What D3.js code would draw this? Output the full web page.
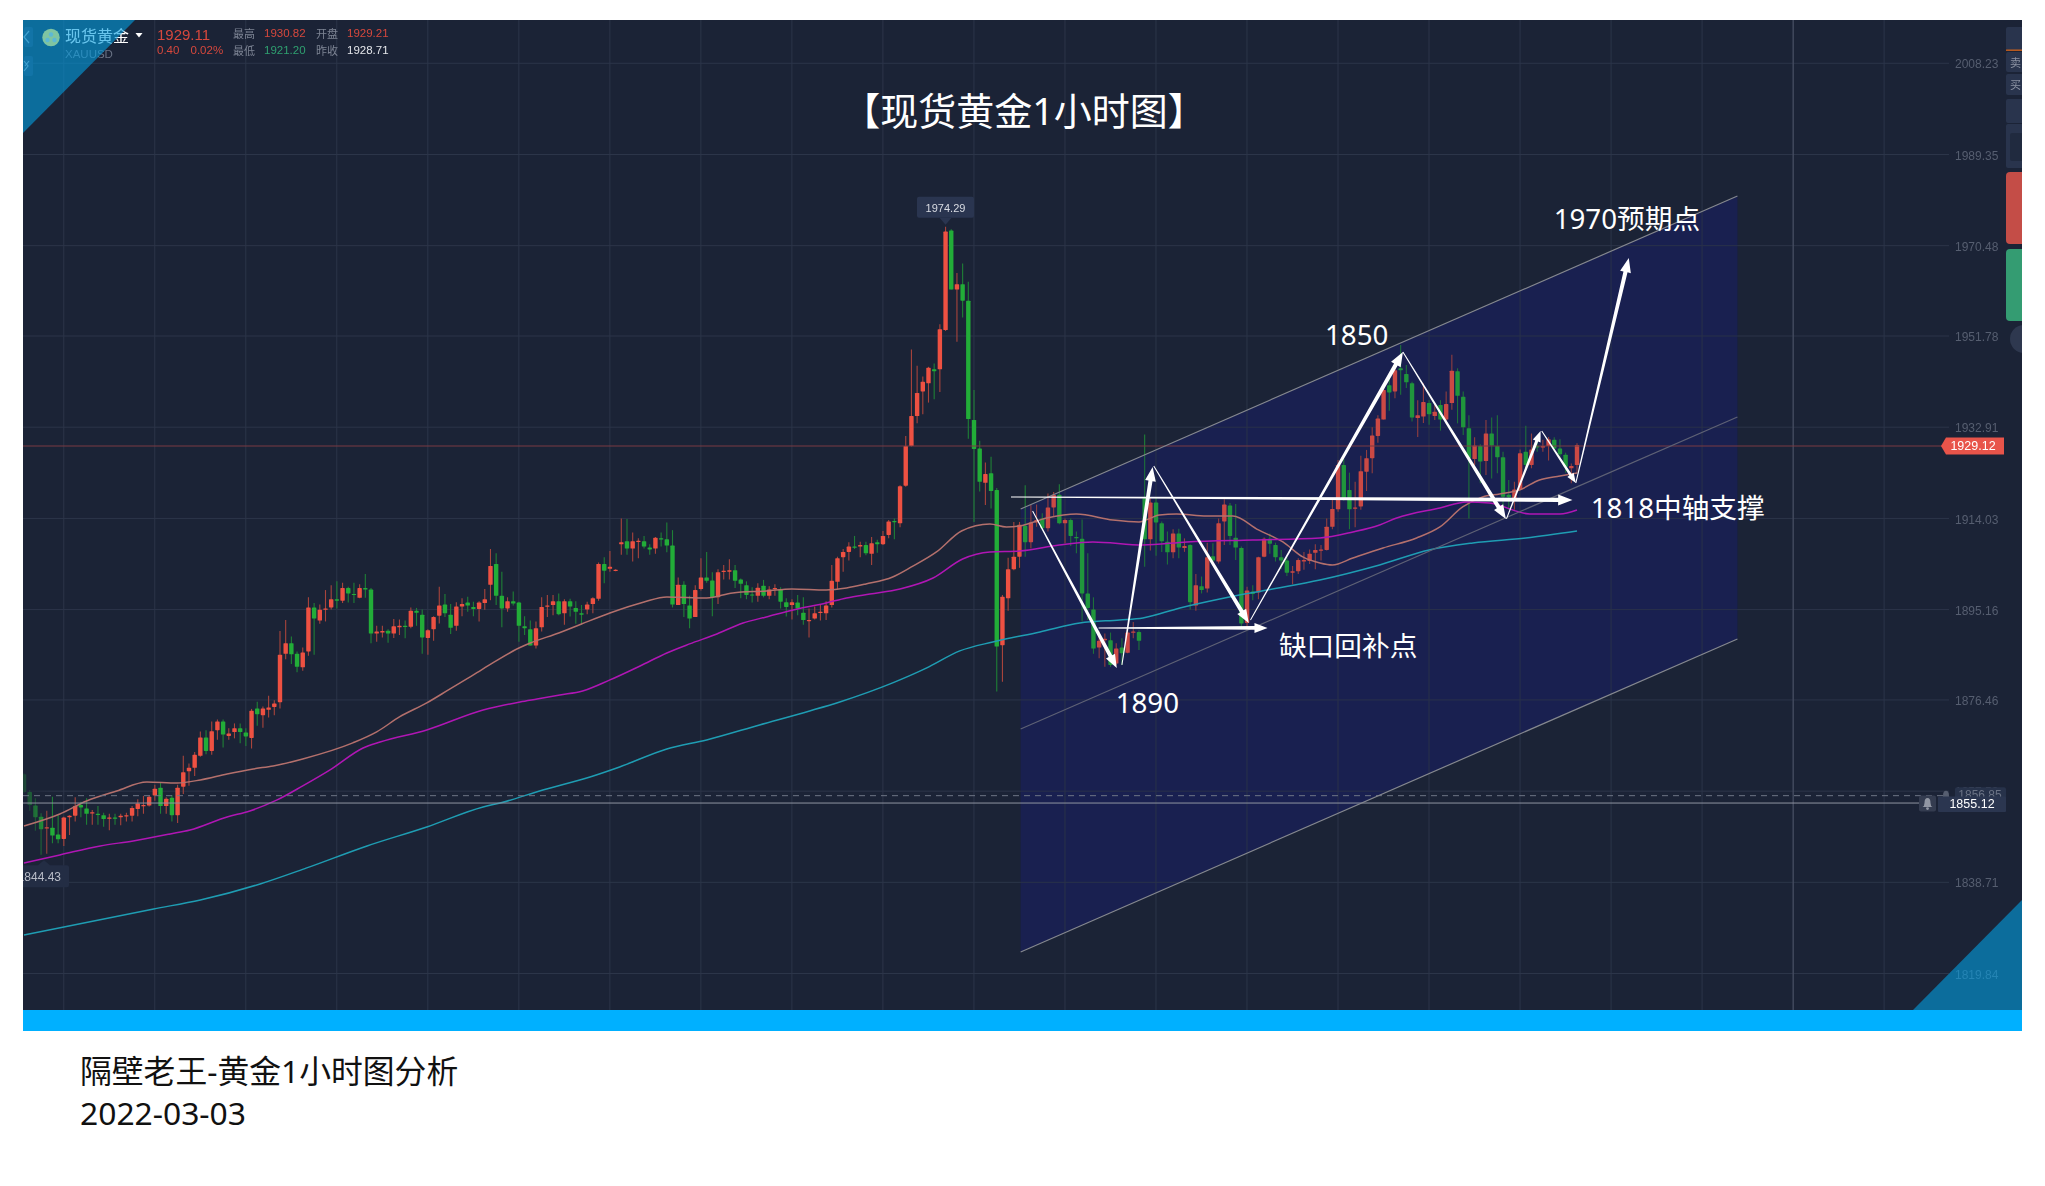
<!DOCTYPE html>
<html><head><meta charset="utf-8">
<script src="https://cdnjs.cloudflare.com/ajax/libs/d3/7.8.5/d3.min.js"></script>
<style>html,body{margin:0;padding:0;background:#fff}svg{display:block}</style>
</head><body><div id="chart"></div>
<script>
// Candles: [open, high, low, close]
const candlesA=[[1861.0,1861.2,1857.0,1857.3],[1857.3,1857.7,1853.4,1854.6],[1854.5,1856.0,1849.3,1852.1],[1852.2,1852.9,1844.3,1849.6],[1849.8,1853.4,1844.5,1850.0],[1849.9,1856.3,1846.7,1848.3],[1848.5,1852.5,1846.7,1847.5],[1847.6,1852.2,1846.1,1852.0],[1852.1,1852.5,1848.4,1852.4],[1852.4,1856.2,1851.2,1854.4],
[1854.6,1855.3,1852.1,1854.1],[1853.9,1856.0,1850.5,1852.8],[1852.9,1853.6,1850.5,1853.1],[1852.8,1854.4,1850.5,1852.6],[1852.5,1853.0,1850.1,1851.7],[1851.8,1852.8,1849.4,1852.0],[1852.0,1852.8,1850.5,1851.8],[1852.1,1852.8,1850.4,1852.4],[1852.3,1853.0,1851.2,1852.5],[1852.4,1854.4,1851.2,1854.0],
[1853.8,1855.8,1852.3,1854.9],[1854.5,1856.5,1852.8,1854.6],[1854.5,1856.5,1854.3,1856.3],[1856.6,1858.8,1855.5,1858.0],[1858.2,1859.2,1852.8,1854.4],[1854.4,1856.2,1852.8,1855.9],[1856.1,1856.7,1851.2,1852.5],[1852.5,1858.8,1850.9,1858.2],[1858.4,1864.8,1856.9,1861.4],[1861.6,1863.2,1858.6,1862.3],
[1862.3,1865.6,1860.6,1865.0],[1864.8,1869.8,1864.6,1868.6],[1868.6,1870.1,1865.1,1865.8],[1865.8,1871.9,1865.0,1869.9],[1870.1,1872.3,1868.1,1871.9],[1871.9,1872.3,1866.5,1869.2],[1868.9,1870.5,1868.1,1869.4],[1869.7,1871.5,1868.4,1870.5],[1870.5,1871.5,1867.4,1869.7],[1869.6,1870.5,1866.8,1868.8],
[1868.5,1874.5,1866.3,1874.1],[1874.6,1876.0,1871.0,1873.4],[1873.2,1875.0,1870.6,1874.6],[1874.3,1877.2,1872.7,1874.8],[1874.9,1876.3,1873.2,1875.6],[1875.9,1890.6,1874.6,1885.7],[1885.9,1892.9,1884.8,1888.1],[1888.1,1889.5,1883.8,1885.8],[1885.9,1886.4,1882.1,1883.2],[1883.1,1887.2,1882.4,1886.2]];
const candlesB=[[1886.4,1897.6,1885.5,1895.5],[1895.5,1896.4,1885.7,1893.2],[1892.8,1896.1,1892.1,1895.0],[1895.0,1899.1,1892.6,1895.3],[1895.5,1900.1,1895.1,1897.2],[1897.2,1900.9,1895.3,1896.9],[1896.9,1900.6,1896.4,1899.5],[1899.5,1899.8,1896.5,1898.4],[1898.3,1900.6,1896.4,1898.1],[1897.5,1900.3,1897.4,1899.5],
[1899.5,1902.4,1897.5,1899.2],[1899.2,1899.5,1888.1,1890.1],[1890.1,1891.7,1888.4,1890.5],[1890.3,1891.7,1889.3,1890.6],[1890.7,1891.0,1888.2,1890.1],[1890.1,1893.1,1889.2,1891.6],[1891.4,1893.0,1889.8,1891.7],[1891.7,1892.8,1889.1,1891.5],[1891.5,1895.5,1891.2,1894.8],[1894.8,1895.4,1891.7,1894.4],
[1894.0,1895.1,1885.9,1889.3],[1889.2,1891.0,1885.7,1890.8],[1891.0,1893.7,1888.6,1893.5],[1893.8,1899.8,1892.2,1895.9],[1896.1,1898.3,1893.5,1894.3],[1894.0,1896.2,1890.0,1891.3],[1891.7,1896.6,1890.7,1895.7],[1895.7,1897.4,1893.7,1896.2],[1896.5,1897.7,1894.6,1895.9],[1895.6,1896.7,1893.7,1895.2],
[1895.2,1896.8,1892.6,1896.5],[1896.4,1899.3,1895.0,1897.2],[1900.2,1907.6,1897.0,1904.1],[1904.5,1906.7,1896.0,1897.9],[1897.9,1902.9,1891.4,1895.3],[1895.3,1897.6,1894.6,1896.8],[1896.8,1898.8,1895.9,1896.3],[1896.5,1896.7,1888.4,1891.7],[1891.6,1893.7,1889.8,1891.2],[1891.0,1892.8,1887.6,1887.6],
[1887.6,1892.6,1887.0,1891.2],[1891.4,1897.6,1890.5,1895.6],[1895.7,1898.1,1893.5,1895.9],[1896.0,1898.1,1893.9,1896.8],[1896.8,1898.4,1893.9,1894.1],[1894.3,1897.2,1891.9,1896.8],[1896.8,1897.3,1893.6,1895.7],[1895.4,1896.8,1892.1,1894.6],[1894.3,1896.0,1891.9,1894.0],[1895.1,1896.7,1894.1,1896.1]];
const candlesC=[[1896.2,1897.6,1894.3,1897.4],[1897.3,1904.8,1896.9,1904.5],[1904.5,1905.9,1900.5,1903.1],[1903.5,1907.2,1902.9,1903.9],[1903.1,1903.4,1903.0,1903.3],[1908.6,1913.9,1906.4,1909.0],[1909.2,1913.8,1906.4,1907.7],[1907.7,1911.0,1905.0,1909.2],[1909.2,1909.8,1905.7,1909.3],[1909.2,1910.3,1907.7,1908.1],
[1907.9,1908.6,1906.4,1907.5],[1907.7,1910.1,1906.6,1909.9],[1909.8,1911.0,1908.1,1909.6],[1909.6,1913.1,1906.9,1908.3],[1908.3,1911.5,1895.5,1896.1],[1896.0,1901.7,1896.0,1900.2],[1900.2,1900.9,1893.5,1896.2],[1895.9,1897.9,1891.2,1893.2],[1893.5,1900.1,1893.5,1899.1],[1899.3,1905.7,1899.0,1901.7],
[1901.7,1907.0,1900.6,1901.0],[1901.1,1902.8,1893.7,1897.6],[1897.6,1903.4,1896.2,1902.8],[1902.9,1904.3,1901.3,1903.1],[1902.9,1905.5,1901.3,1903.2],[1903.2,1904.3,1899.5,1901.0],[1901.3,1901.5,1897.4,1900.4],[1900.1,1900.9,1897.2,1898.1],[1898.2,1899.7,1896.5,1898.0],[1897.9,1900.5,1896.7,1899.6],
[1900.0,1901.2,1897.6,1897.9],[1897.9,1899.9,1897.2,1899.2],[1899.3,1900.3,1897.9,1899.5],[1899.2,1899.7,1895.3,1896.7],[1896.6,1897.4,1893.6,1895.6],[1896.0,1897.2,1893.0,1896.6],[1896.5,1898.1,1893.9,1895.3],[1894.4,1897.6,1891.9,1892.9],[1892.7,1895.3,1889.3,1892.9],[1893.2,1895.7,1893.0,1894.3],
[1894.4,1896.0,1892.8,1894.6],[1894.3,1896.8,1892.9,1895.9],[1896.0,1904.3,1895.5,1901.0],[1900.8,1906.0,1899.2,1905.7],[1905.9,1907.6,1902.9,1907.0],[1907.0,1909.0,1905.2,1908.1],[1908.1,1910.3,1907.6,1907.9],[1908.1,1909.1,1905.9,1908.4],[1908.4,1909.1,1906.3,1906.7],[1906.6,1910.1,1904.3,1908.8]];
const candlesD=[[1909.0,1909.5,1906.8,1908.6],[1908.6,1911.3,1908.4,1910.3],[1910.5,1913.6,1909.8,1913.3],[1913.4,1913.9,1909.6,1913.2],[1912.9,1920.8,1912.1,1920.6],[1920.7,1931.0,1920.5,1928.9],[1928.9,1948.9,1928.8,1935.1],[1935.1,1945.5,1933.6,1939.9],[1940.2,1943.3,1935.5,1942.2],[1941.9,1945.3,1937.9,1945.1],
[1944.8,1946.0,1938.6,1944.4],[1944.8,1954.1,1940.1,1953.1],[1952.9,1974.29,1952.7,1973.3],[1973.5,1973.8,1961.3,1961.3],[1961.3,1964.7,1950.5,1962.4],[1962.4,1966.7,1955.5,1959.0],[1959.0,1962.9,1930.4,1934.5],[1934.3,1940.5,1913.2,1928.3],[1928.4,1930.0,1919.5,1921.5],[1921.3,1925.5,1916.7,1923.1],
[1923.3,1926.7,1916.0,1919.6],[1919.8,1920.2,1878.1,1887.4],[1887.7,1898.1,1880.1,1897.7],[1897.4,1905.8,1894.8,1903.4],[1903.4,1913.2,1903.2,1906.0],[1906.0,1913.2,1903.7,1912.6],[1912.4,1920.8,1906.0,1909.0],[1909.0,1916.7,1907.7,1913.1],[1913.1,1916.8,1912.2,1913.6],[1913.9,1915.0,1911.5,1911.9],
[1911.9,1919.1,1911.2,1916.2],[1916.2,1919.4,1914.3,1918.8],[1918.8,1921.0,1912.7,1912.9],[1912.9,1913.9,1908.8,1913.6],[1913.6,1913.9,1908.2,1910.3],[1910.1,1911.2,1906.7,1909.8],[1909.7,1913.7,1892.6,1898.4],[1898.4,1906.7,1892.9,1895.4],[1895.1,1897.6,1885.9,1887.0],[1887.2,1890.5,1885.0,1888.6],
[1888.7,1890.1,1883.2,1889.0],[1888.7,1890.3,1883.2,1883.6],[1883.9,1888.1,1883.6,1887.0],[1887.2,1889.1,1883.6,1886.0],[1886.1,1890.8,1886.0,1890.3],[1890.3,1892.5,1889.1,1890.5],[1890.4,1890.8,1886.7,1888.6],[1918.1,1931.3,1903.9,1909.6],[1909.6,1918.1,1907.3,1917.2],[1917.2,1918.1,1906.2,1913.1]];
const candlesE=[[1912.9,1913.3,1907.0,1909.2],[1909.1,1911.2,1904.4,1906.9],[1906.9,1911.7,1905.7,1910.8],[1910.8,1911.8,1905.7,1907.9],[1907.8,1909.8,1907.0,1908.2],[1908.4,1908.6,1895.1,1896.6],[1895.9,1902.4,1894.8,1900.1],[1899.9,1901.9,1898.4,1899.1],[1899.4,1908.9,1898.6,1905.9],[1906.1,1908.8,1904.9,1905.2],
[1905.0,1913.9,1904.6,1912.9],[1913.3,1917.9,1908.4,1916.8],[1916.6,1917.1,1908.4,1910.3],[1909.9,1916.9,1905.3,1907.9],[1907.8,1908.1,1891.0,1892.2],[1892.3,1899.8,1891.0,1899.0],[1898.8,1900.1,1897.0,1898.3],[1898.6,1906.0,1897.2,1905.9],[1906.0,1910.0,1905.9,1909.7],[1909.7,1910.8,1906.6,1908.7],
[1908.4,1908.9,1905.0,1905.9],[1905.9,1907.4,1903.4,1905.2],[1905.2,1905.9,1902.0,1902.7],[1902.7,1904.1,1900.3,1903.0],[1903.0,1905.7,1902.4,1905.3],[1905.0,1907.0,1903.3,1905.3],[1905.1,1907.5,1904.5,1906.6],[1906.8,1908.6,1903.4,1907.4],[1907.4,1908.4,1905.2,1907.5],[1907.4,1913.9,1907.3,1912.2],
[1912.2,1918.1,1911.7,1915.9],[1915.8,1926.0,1915.3,1925.0],[1925.0,1926.2,1917.6,1917.9],[1919.8,1923.4,1911.7,1915.8],[1916.0,1921.5,1912.1,1916.2],[1916.4,1926.9,1915.7,1923.7],[1923.6,1928.1,1919.6,1926.4],[1926.4,1932.8,1923.3,1931.1],[1931.0,1935.3,1929.6,1934.6],[1934.4,1941.1,1934.4,1940.5],
[1941.5,1943.4,1936.2,1940.0],[1940.2,1945.7,1938.8,1944.6],[1945.0,1949.8,1939.5,1944.6],[1943.8,1945.7,1940.9,1942.1],[1941.9,1942.2,1934.0,1934.8],[1934.7,1938.4,1930.8,1935.3],[1935.0,1941.9,1933.7,1938.0],[1937.8,1938.4,1933.3,1935.5],[1935.1,1937.4,1934.3,1936.0],[1937.4,1938.4,1932.1,1934.4]];
const candlesF=[[1934.4,1940.2,1933.5,1937.6],[1937.8,1947.8,1936.4,1944.5],[1944.4,1945.0,1933.6,1939.3],[1939.1,1940.2,1931.2,1932.8],[1932.6,1935.3,1913.9,1926.4],[1926.2,1930.7,1925.0,1929.0],[1928.9,1929.3,1921.2,1925.7],[1925.8,1934.3,1922.9,1931.5],[1931.5,1934.8,1922.2,1929.0],[1928.9,1935.3,1923.3,1926.6],
[1926.6,1927.7,1916.0,1918.4],[1918.8,1921.9,1915.7,1918.3],[1918.1,1921.5,1915.7,1919.9],[1919.9,1928.2,1919.8,1927.4],[1927.7,1933.1,1924.0,1925.0],[1925.0,1931.5,1924.3,1928.2],[1928.9,1930.9,1927.7,1928.6],[1928.6,1930.2,1927.7,1928.9],[1928.9,1930.8,1925.9,1930.3],[1930.2,1930.7,1927.7,1928.4],
[1928.4,1930.3,1926.4,1927.2],[1927.1,1927.5,1923.4,1924.6],[1924.3,1925.3,1921.2,1924.8],[1925.0,1929.5,1923.3,1929.11]];
const candles=[].concat(candlesA,candlesB,candlesC,candlesD,candlesE,candlesF);

// Moving averages: [candle index, price]
const maSalmon=[[0,1850.28],[6.3,1852.76],[11,1855.45],[16.3,1857.52],[21.6,1859.38],[26.9,1859.17],[31,1859.8],[35.7,1861.04],[40.3,1862.08],[43.8,1862.7],[49,1864.14],[57.8,1867.46],[62,1869.74],[66,1872.84],[70.8,1875.74],[74.9,1878.64],[79,1881.53],[82.4,1884.01],[87,1887.11],[89,1888.15],[94,1890.22],[98,1892.08],[103,1894.36],[109,1896.64],[113,1897.67],[120,1897.46],[124.6,1898.5],[130.5,1898.91],[135,1899.33],[141,1899.12],[144.6,1899.53],[148,1900.36],[152.7,1901.81],[156,1903.88],[160.4,1906.98],[164.8,1911.33],[169.8,1912.78],[172.7,1912.16],[175,1912.37],[179.8,1914.02],[185,1914.85],[191.4,1913.6],[196,1913.19],[199.6,1914.64],[202.6,1914.85],[207.9,1914.43],[212.5,1914.43],[217,1911.54],[221.3,1909.06],[224.8,1905.95],[227.8,1904.71],[230,1904.3],[233.6,1905.74],[238.9,1907.81],[244.8,1909.88],[248.9,1912.16],[252.9,1916.3],[256.4,1918.37],[259.4,1918.99],[262.9,1919.82],[266.4,1921.89],[270,1922.71],[273,1923.33]];
const maMagenta=[[0,1842.62],[6.3,1844.28],[13.4,1846.14],[19.2,1847.18],[25.7,1848.62],[29.2,1849.45],[35.7,1852.14],[39.7,1853.38],[44.5,1855.66],[49,1858.56],[53.8,1861.87],[59.6,1866.42],[62.6,1867.66],[70.8,1870.15],[80.7,1874.28],[87.2,1875.94],[90.2,1876.56],[94.2,1877.39],[98.2,1878.22],[103,1880.5],[108.3,1883.39],[113,1886.08],[117,1887.95],[121.8,1890.01],[126.4,1892.29],[130.5,1893.53],[135.2,1894.98],[141,1896.43],[144.6,1897.46],[148.7,1898.29],[154,1899.33],[159.8,1901.6],[165,1905.53],[169.8,1906.98],[175,1907.19],[182,1908.43],[187.9,1909.06],[196.7,1908.43],[204.4,1909.06],[216,1909.47],[227.8,1909.88],[233.6,1911.12],[238.3,1912.57],[241.3,1914.02],[248.9,1916.09],[253.6,1917.33],[257.6,1917.12],[264.7,1914.85],[270,1914.85],[273,1915.67]];
const maTeal=[[0,1827.72],[22.8,1833.1],[31,1834.96],[41.5,1838.27],[49.7,1841.59],[60.3,1846.14],[70.8,1850.07],[80.7,1854.21],[83.7,1855.03],[91.2,1857.73],[99.5,1860.42],[104.7,1862.49],[113,1866.22],[120,1868.08],[129.3,1871.18],[138.1,1874.08],[143.4,1875.94],[152.7,1879.88],[158.7,1882.98],[164.5,1886.5],[170.3,1888.36],[178.6,1890.43],[185.6,1892.29],[192.6,1892.91],[196.7,1893.32],[203.2,1895.4],[210.2,1897.26],[218.5,1899.12],[227.8,1901.19],[238.3,1904.3],[247,1907.4],[254.7,1908.85],[264,1909.88],[273,1911.33]];

// Axis
const priceTicks=[2008.23,1989.35,1970.48,1951.78,1932.91,1914.03,1895.16,1876.46,1857.58,1838.71,1819.84];
const gridCandles=d3.range(6.9,340,16);
const crosshairCandle=311;

// Quote header
const quoteName="现货黄金", quoteCode="XAUUSD", quoteLast="1929.11", quoteChange="0.40", quotePct="0.02%";
const quoteHigh="1930.82", quoteOpen="1929.21", quoteLow="1921.20", quotePrev="1928.71";
const lastPrice=1929.12, alertPrice=1855.12, alertPrice2=1856.85, peakPrice=1974.29, lowTagPrice=1844.43;

// Drawn channel: [[candle, price] start, end]
const channelUpper=[[175.2,1915.88],[301.2,1980.66]];
const channelMiddle=[[175.2,1870.35],[301.2,1934.92]];
const channelLower=[[175.2,1824.2],[301.2,1888.98]];

// Drawn arrows: [[candle, price] start, end]
const arrowPaths=[
 [[177.3,1915.47],[192.1,1882.98]],
 [[193,1883.6],[198.4,1924.57]],
 [[198.6,1924.78],[215.3,1892.29]],
 [[215.6,1892.91],[242.4,1948.37]],
 [[242.4,1948.37],[260.5,1913.82]],
 [[260.6,1913.82],[266.6,1932.03]],
 [[266.8,1932.03],[272.8,1921.26]],
 [[272.8,1921.26],[282.1,1967.83]],
 [[173.5,1918.37],[272.2,1917.74]],
 [[188.9,1891.26],[218.6,1891.26]]];

// Drawn notes: text, candle, price at text middle
const notes=[["1970预期点",268.9,1976.1],["1850",228.7,1952.1],["1890",191.9,1875.9],["缺口回补点",220.6,1887.7],["1818中轴支撑",275.4,1916.3]];

const titleText="【现货黄金1小时图】";
const footerLines=["隔壁老王-黄金1小时图分析","2022-03-03"];

// ---------- drawing ----------
const W=2045,H=1186,PL=23,PR=2022,PT=20,PB=1010;
const CJK='"Noto Sans","Noto Sans CJK SC",sans-serif', ZH='"Noto Sans CJK SC","Noto Sans",sans-serif', LAT='"Liberation Sans",Arial,sans-serif';
const x=d3.scaleLinear().domain([0,273]).range([24,1577]);
const y=d3.scaleLinear().domain([1989.35,1819.84]).range([154,973]);
const P=p=>[x(p[0]),y(p[1])];

const svg=d3.select("#chart").append("svg").attr("width",W).attr("height",H).attr("viewBox",`0 0 ${W} ${H}`);
svg.append("rect").attr("width",W).attr("height",H).attr("fill","#fff");
const defs=svg.append("defs");
defs.append("clipPath").attr("id","panel").append("rect").attr("x",PL).attr("y",PT).attr("width",PR-PL).attr("height",PB-PT);
const fade=defs.append("linearGradient").attr("id","fade");
fade.append("stop").attr("offset",0).attr("stop-color","#1b2336").attr("stop-opacity",.8);
fade.append("stop").attr("offset",1).attr("stop-color","#1b2336").attr("stop-opacity",0);
defs.append("filter").attr("id","soft").attr("color-interpolation-filters","sRGB").append("feGaussianBlur").attr("stdDeviation",.35);

const root=svg.append("g").attr("clip-path","url(#panel)");
const g=root.append("g").attr("filter","url(#soft)");
g.append("rect").attr("x",PL).attr("y",PT).attr("width",PR-PL).attr("height",PB-PT).attr("fill","#1b2336");

// channel fill
const chan=[P(channelUpper[0]),P(channelUpper[1]),P(channelLower[1]),P(channelLower[0])];
g.append("polygon").attr("points",chan.join(" ")).attr("fill","#1a2150");

// grid and axes
const gx=g.append("g").attr("transform",`translate(0,${PB})`)
 .call(d3.axisBottom(x).tickValues(gridCandles).tickSize(-(PB-PT)).tickFormat(""));
gx.select(".domain").remove();
gx.selectAll("line").attr("stroke","#2c3549");
const gy=g.append("g").attr("transform",`translate(${PL},0)`)
 .call(d3.axisRight(y).tickValues(priceTicks).tickSize(1926).tickPadding(6).tickFormat(d3.format(".2f")));
gy.select(".domain").remove();
gy.selectAll("line").attr("stroke","#2c3549");
gy.selectAll("text").attr("fill","#565e70").attr("font-family",LAT).attr("font-size",12).attr("x",1932).attr("y",1.3);
g.append("line").attr("x1",x(crosshairCandle)).attr("x2",x(crosshairCandle)).attr("y1",PT).attr("y2",PB).attr("stroke","#4c5468");

// candles
const up=d=>d[3]>=d[0];
const cg=g.append("g").selectAll("g").data(candles).join("g");
cg.append("line").attr("x1",(d,i)=>x(i)).attr("x2",(d,i)=>x(i)).attr("y1",d=>y(d[1])).attr("y2",d=>y(d[2]))
 .attr("stroke",d=>up(d)?"#a8443c":"#1f8036").attr("stroke-width",1.1);
cg.append("rect").attr("x",(d,i)=>x(i)-2.2).attr("width",4.4).attr("rx",.6)
 .attr("y",d=>y(Math.max(d[0],d[3]))).attr("height",d=>Math.max(1.2,Math.abs(y(d[0])-y(d[3]))))
 .attr("fill",d=>up(d)?"#ee5142":"#22ad38");
// overlay tint
g.append("polygon").attr("points",chan.join(" ")).attr("fill","#1a2150").attr("opacity",.16);
g.append("rect").attr("x",PL).attr("y",760).attr("width",28).attr("height",130).attr("fill","url(#fade)");

// moving averages
const line=d3.line().x(d=>x(d[0])).y(d=>y(d[1])).curve(d3.curveMonotoneX);
[[maSalmon,"#b4706c"],[maMagenta,"#b016b4"],[maTeal,"#1f9db3"]].forEach(([a,c])=>
 g.append("path").attr("d",line(a)).attr("fill","none").attr("stroke",c).attr("stroke-width",1.5));

// price lines
const hline=(yy,c,dash,x2)=>g.append("line").attr("x1",PL).attr("x2",x2).attr("y1",yy).attr("y2",yy).attr("stroke",c).attr("stroke-dasharray",dash);
hline(y(lastPrice)+1,"#7a3a42",null,1942);
hline(y(alertPrice2)+1.5,"#6f7686","6 5",1945);
hline(y(alertPrice)+.5,"#8f94a2",null,1925);

// channel lines
[channelUpper,channelMiddle,channelLower].forEach((l,i)=>{
 const a=P(l[0]),b=P(l[1]);
 g.append("line").attr("x1",a[0]).attr("y1",a[1]).attr("x2",b[0]).attr("y2",b[1]).attr("stroke",i==1?"#5e6175":"#85888f").attr("stroke-width",1.2);
});

// price tags
const ly=y(lastPrice)+1;
g.append("path").attr("d",`M1941,${ly} L1946,${ly-8.5} H2004 V${ly+8.5} H1946 Z`).attr("fill","#e8544a");
const txt=(par,t,tx,ty,size,fill,anchor,fam)=>par.append("text").attr("x",tx).attr("y",ty).attr("font-size",size).attr("fill",fill)
 .attr("text-anchor",anchor||"start").attr("dominant-baseline","central").attr("font-family",fam||LAT).text(t);
txt(g,lastPrice.toFixed(2),1973,ly,12.5,"#fff","middle");
const bell=(cx,cy,fill)=>{
 g.append("path").attr("d",`M${cx-5},${cy+4} q2,-1 2,-4 q0,-5 3,-5 q3,0 3,5 q0,3 2,4 Z`).attr("fill",fill);
 g.append("circle").attr("cx",cx).attr("cy",cy+5.5).attr("r",1.4).attr("fill",fill);
};
g.append("rect").attr("x",1955).attr("y",y(alertPrice2)-7).attr("width",51).attr("height",18).attr("rx",2).attr("fill","#27324a");
txt(g,alertPrice2.toFixed(2),1980,y(alertPrice2)+1,12,"#6b7385","middle");
bell(1946,y(alertPrice2)+1.5,"#565e70");
g.append("rect").attr("x",1919).attr("y",y(alertPrice)-7).attr("width",17).attr("height",16).attr("rx",2).attr("fill","#343c50");
bell(1927.5,y(alertPrice)+.5,"#9196a3");
g.append("rect").attr("x",1938).attr("y",y(alertPrice)-6).attr("width",68).attr("height",15.5).attr("rx",1).attr("fill","#2b3650");
txt(g,alertPrice.toFixed(2),1972,y(alertPrice)+1.5,12.5,"#fff","middle");

// peak and low tags
const px=x(162), py=y(peakPrice);
g.append("rect").attr("x",917).attr("y",py-30).attr("width",57).attr("height",21).attr("rx",2).attr("fill","#2a3550");
g.append("path").attr("d",`M${px-6},${py-9} L${px},${py-2} L${px+6},${py-9} Z`).attr("fill","#2a3550");
txt(g,peakPrice.toFixed(2),945.5,py-19,11,"#d8dbe2","middle");
const lowY=y(lowTagPrice);
g.append("path").attr("d",`M${PL},${lowY+11} H38 L44,${lowY+6} L50,${lowY+11} H67 a2,2 0 0 1 2,2 V${lowY+31} a2,2 0 0 1 -2,2 H${PL} Z`).attr("fill","#232d44");
txt(g,lowTagPrice.toFixed(2),61,lowY+22.5,12,"#b9bdc8","end");

// right side widgets
const side=g.append("g");
[[27,23,"#29344d"],[52,20,"#29344d"],[74,21,"#29344d"],[99,24,"#29344d"],[124,44,"#29344d"]].forEach(b=>
 side.append("rect").attr("x",2006).attr("y",b[0]).attr("width",22).attr("height",b[1]).attr("rx",2).attr("fill",b[2]));
side.append("rect").attr("x",2006).attr("y",49.5).attr("width",16).attr("height",1.4).attr("fill","#c8601f");
side.append("rect").attr("x",2010).attr("y",133).attr("width",16).attr("height",28).attr("rx",2).attr("fill","#202a3f");
txt(side,"卖",2010,62,11,"#8c93a3","start",ZH);
txt(side,"买",2010,84,11,"#8c93a3","start",ZH);
side.append("rect").attr("x",2006).attr("y",172).attr("width",24).attr("height",72).attr("rx",4).attr("fill","#c44d47");
side.append("rect").attr("x",2006).attr("y",249).attr("width",24).attr("height",72).attr("rx",4).attr("fill","#349c72");
side.append("circle").attr("cx",2024).attr("cy",339).attr("r",14).attr("fill","#2e384f");

// quote header
const hd=g.append("g");
txt(hd,quoteName,65,34.5,16,"#fff","start",ZH);
hd.append("path").attr("d","M135.5,33 H142.5 L139,37.5 Z").attr("fill","#fff");
txt(hd,quoteCode,65,53.5,11.5,"#6a7385");
txt(hd,quoteLast,157,34,15,"#d7483d");
txt(hd,quoteChange,157,50,11.5,"#d7483d");
txt(hd,quotePct,190.5,50,11.5,"#d7483d");
txt(hd,"最高",233,33,11,"#7d8494","start",ZH);
txt(hd,quoteHigh,264,33,11.5,"#d7483d");
txt(hd,"开盘",316,33,11,"#7d8494","start",ZH);
txt(hd,quoteOpen,347,33,11.5,"#d7483d");
txt(hd,"最低",233,50,11,"#7d8494","start",ZH);
txt(hd,quoteLow,264,50,11.5,"#2fa070");
txt(hd,"昨收",316,50,11,"#7d8494","start",ZH);
txt(hd,quotePrev,347,50,11.5,"#e4e6ea");
[[27,20],[56,20]].forEach(b=>{
 hd.append("rect").attr("x",24).attr("y",b[0]).attr("width",9).attr("height",b[1]).attr("rx",2).attr("fill","#2a3650");
});
hd.append("path").attr("d","M29,31 L24,37 L29,43").attr("stroke","#9aa3b4").attr("stroke-width",1.2).attr("fill","none");
hd.append("path").attr("d","M24,61 L28,66 L24,71 M29,61 L25,66").attr("stroke","#9aa3b4").attr("stroke-width",1.2).attr("fill","none");

// corner triangles
g.append("polygon").attr("points",`${PL},${PT} 135,${PT} ${PL},133`).attr("fill","rgba(4,159,225,.6)");
g.append("polygon").attr("points",`${PR},900 ${PR},${PB} 1913,${PB}`).attr("fill","rgba(4,159,225,.6)");
// instrument icon sits above the corner
g.append("circle").attr("cx",51).attr("cy",37.5).attr("r",8.7).attr("fill","#7fc4a2");
[[51,34.5],[47.5,40],[54.5,40]].forEach(c=>g.append("circle").attr("cx",c[0]).attr("cy",c[1]).attr("r",2.2).attr("fill","#5cb8d6"));

// drawn arrows: tapering shafts with triangular heads
const over=svg.append("g");
arrowPaths.forEach(seg=>{
 const [a,b]=[P(seg[0]),P(seg[1])];
 const dx=b[0]-a[0],dy=b[1]-a[1],L=Math.hypot(dx,dy),ux=dx/L,uy=dy/L,nx=-uy,ny=ux;
 const headW=Math.min(5.5,3+L*.012),headL=headW*2.6,w0=.5,w1=headW*.38;
 const m=[b[0]-ux*headL,b[1]-uy*headL];
 const pts=[[a[0]+nx*w0,a[1]+ny*w0],[m[0]+nx*w1,m[1]+ny*w1],[m[0]+nx*headW,m[1]+ny*headW],b,[m[0]-nx*headW,m[1]-ny*headW],[m[0]-nx*w1,m[1]-ny*w1],[a[0]-nx*w0,a[1]-ny*w0]];
 over.append("polygon").attr("points",pts.join(" ")).attr("fill","#fff");
});

// notes and title
notes.forEach(n=>txt(over,n[0],x(n[1]),y(n[2]),27.7,"#fff","start",CJK));
txt(over,titleText,1024,110,38,"#fff","middle",CJK);

// bottom band and footer
svg.append("rect").attr("x",PL).attr("y",PB).attr("width",PR-PL).attr("height",21).attr("fill","#00b0ff");
footerLines.forEach((t,i)=>svg.append("text").attr("x",80).attr("y",[1083,1125][i]).attr("font-size",31.8).attr("fill","#111").attr("font-family",CJK).text(t));
</script></body></html>
